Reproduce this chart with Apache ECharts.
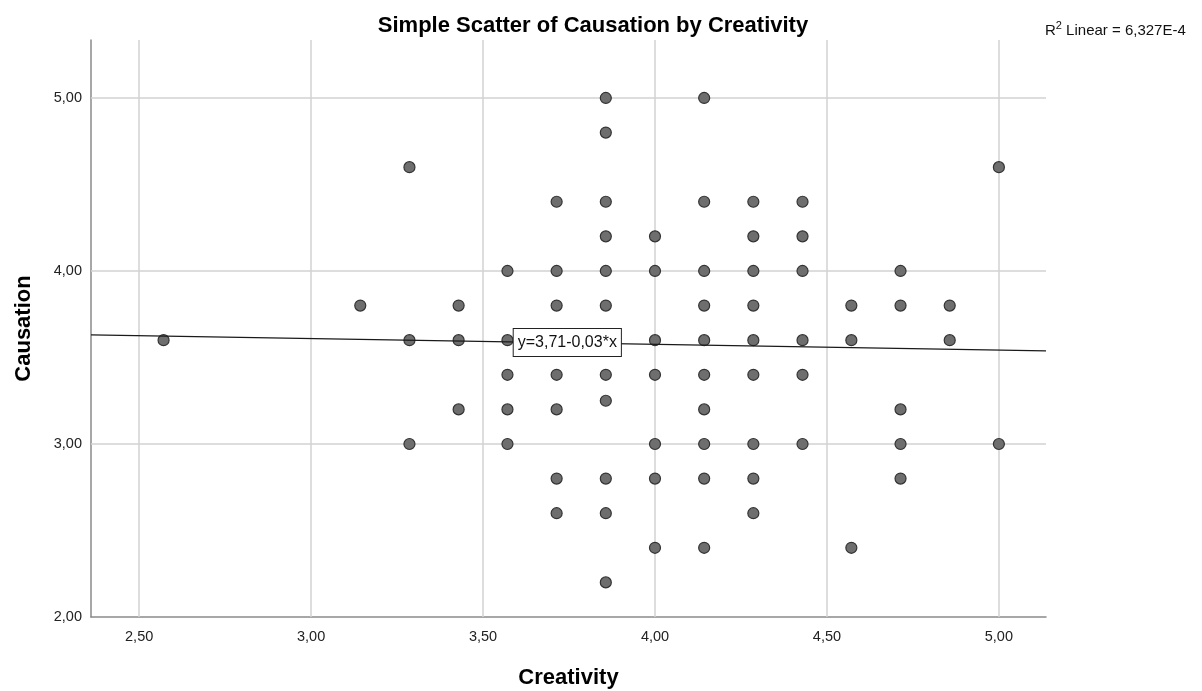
<!DOCTYPE html>
<html>
<head>
<meta charset="utf-8">
<script src="https://cdn.jsdelivr.net/npm/echarts@6/dist/echarts.min.js"></script>
<style>html,body{margin:0;padding:0;background:#fff}#c{width:1202px;height:691px}</style>
</head>
<body>
<div id="c"></div>
<script>
// Creativity (x) values are multiples of 1/7; Causation (y)
const creativity = [
  2.571,
  3.143,
  3.286, 3.286, 3.286,
  3.429, 3.429, 3.429,
  3.571, 3.571, 3.571, 3.571, 3.571,
  3.714, 3.714, 3.714, 3.714, 3.714, 3.714, 3.714,
  3.857, 3.857, 3.857, 3.857, 3.857, 3.857, 3.857, 3.857, 3.857, 3.857, 3.857,
  4.000, 4.000, 4.000, 4.000, 4.000, 4.000, 4.000,
  4.143, 4.143, 4.143, 4.143, 4.143, 4.143, 4.143, 4.143, 4.143, 4.143,
  4.286, 4.286, 4.286, 4.286, 4.286, 4.286, 4.286, 4.286, 4.286,
  4.429, 4.429, 4.429, 4.429, 4.429, 4.429,
  4.571, 4.571, 4.571,
  4.714, 4.714, 4.714, 4.714, 4.714,
  4.857, 4.857,
  5.000, 5.000
];
const causation = [
  3.6,
  3.8,
  4.6, 3.6, 3.0,
  3.8, 3.6, 3.2,
  4.0, 3.6, 3.4, 3.2, 3.0,
  4.4, 4.0, 3.8, 3.4, 3.2, 2.8, 2.6,
  5.0, 4.8, 4.4, 4.2, 4.0, 3.8, 3.4, 3.25, 2.8, 2.6, 2.2,
  4.2, 4.0, 3.6, 3.4, 3.0, 2.8, 2.4,
  5.0, 4.4, 4.0, 3.8, 3.6, 3.4, 3.2, 3.0, 2.8, 2.4,
  4.4, 4.2, 4.0, 3.8, 3.6, 3.4, 3.0, 2.8, 2.6,
  4.4, 4.2, 4.0, 3.6, 3.4, 3.0,
  3.8, 3.6, 2.4,
  4.0, 3.8, 3.2, 3.0, 2.8,
  3.8, 3.6,
  4.6, 3.0
];
// Fit line y = 3.71 - 0.0335x, endpoints at the axis limits
const fitX = [2.36, 5.137];
const fitY = [3.631, 3.538];
const xTicks = [2.5, 3.0, 3.5, 4.0, 4.5, 5.0];
const yTicks = [2, 3, 4, 5];
const fitLabel = 'y=3,71-0,03*x';
const fitLabelPos = [3.745, 3.587];
const r2Text = '6,327E-4';

const fmt = v => Number(v).toFixed(2).replace('.', ',');
const points = creativity.map((x, i) => [x, causation[i]]);
const fitData = fitX.map((x, i) => [x, fitY[i]]);

const chart = echarts.init(document.getElementById('c'), null, {renderer: 'canvas'});
const FONT = '"Liberation Sans", Arial, sans-serif';
chart.setOption({
  backgroundColor: '#ffffff',
  animation: false,
  textStyle: {fontFamily: FONT},
  title: {
    text: 'Simple Scatter of Causation by Creativity',
    left: 588, top: 10, textAlign: 'center',
    textStyle: {fontFamily: FONT, fontSize: 22, fontWeight: 'bold', color: '#000'}
  },
  grid: {left: 91, top: 40, width: 955, height: 577, containLabel: false, outerBoundsMode: 'none'},
  xAxis: {
    type: 'value', min: 2.36, max: 5.137,
    name: 'Creativity', nameLocation: 'middle', nameGap: 50,
    nameTextStyle: {fontFamily: FONT, fontSize: 22, fontWeight: 'bold', color: '#000'},
    axisLine: {show: true, onZero: false, lineStyle: {color: '#8a8a8a', width: 1.5}},
    axisTick: {show: false, customValues: xTicks},
    axisLabel: {customValues: xTicks, formatter: fmt, color: '#222', fontSize: 14.5, margin: 12, fontFamily: FONT},
    splitLine: {show: false}
  },
  yAxis: {
    type: 'value', min: 2, max: 5.335, interval: 1,
    name: 'Causation', nameLocation: 'middle', nameGap: 56, nameRotate: 90,
    nameTextStyle: {fontFamily: FONT, fontSize: 22, fontWeight: 'bold', color: '#000'},
    axisLine: {show: true, onZero: false, lineStyle: {color: '#8a8a8a', width: 1.5}},
    axisTick: {show: false},
    axisLabel: {formatter: fmt, color: '#222', fontSize: 14.5, margin: 9, fontFamily: FONT,
      showMaxLabel: false},
    splitLine: {show: false}
  },
  series: [
    {
      type: 'scatter', name: 'grid', data: [], silent: true, z: 1,
      markLine: {
        silent: true, symbol: 'none', label: {show: false}, z: 1,
        lineStyle: {color: '#d2d2d2', width: 1.5, type: 'solid'},
        data: xTicks.map(v => ({xAxis: v})).concat(yTicks.filter(v => v > 2).map(v => ({yAxis: v})))
      }
    },
    {
      type: 'scatter', data: points, symbol: 'circle', symbolSize: 11, z: 3,
      itemStyle: {color: '#6e6e6e', borderColor: '#333333', borderWidth: 1.2, opacity: 1}
    },
    {
      type: 'line', data: fitData, showSymbol: false, symbol: 'none', z: 4,
      lineStyle: {color: '#1a1a1a', width: 1.3},
      markPoint: {
        symbol: 'rect', symbolSize: 0.01, silent: true, z: 6,
        data: [{coord: fitLabelPos}],
        label: {
          show: true, position: 'inside', formatter: fitLabel,
          fontFamily: FONT, fontSize: 16, color: '#111',
          backgroundColor: '#fff', borderColor: '#222', borderWidth: 1,
          padding: [6, 4, 5, 4]
        }
      }
    }
  ],
  graphic: [{
    type: 'text', left: 1045, top: 20, z: 10,
    style: {
      text: '{n|R}{s|2}{n| Linear = ' + r2Text + '}',
      rich: {
        n: {fontFamily: FONT, fontSize: 15, fill: '#111', verticalAlign: 'bottom', lineHeight: 18},
        s: {fontFamily: FONT, fontSize: 11, fill: '#111', verticalAlign: 'top', lineHeight: 18, padding: [0, 0, 7, 0]}
      }
    }
  }]
});
</script>
</body>
</html>
